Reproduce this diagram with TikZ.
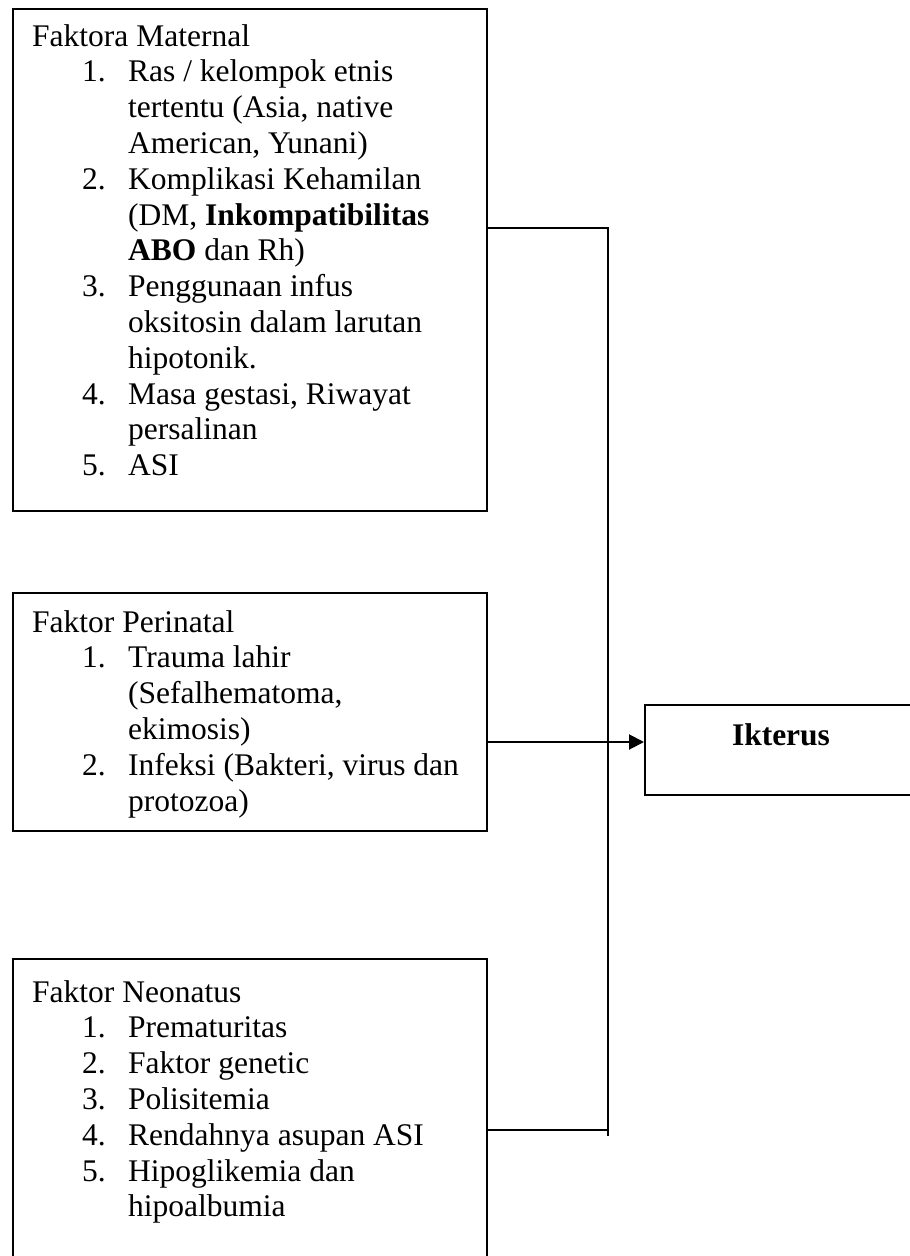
\documentclass[tikz,border=0pt]{standalone}
\usepackage{fontspec}
\setmainfont{Liberation Serif}
\usetikzlibrary{arrows.meta}
\newcommand\ind[1]{\hspace*{50pt}\makebox[46pt][l]{#1}}
\begin{document}
\begin{tikzpicture}[x=1pt,y=-1pt,
  box/.style={draw, line width=1.5pt, inner sep=0pt, anchor=north west},
  txt/.style={anchor=base west, inner sep=0pt, font=\fontsize{31.5}{35.8}\selectfont},
  conn/.style={line width=1.5pt},
  arr/.style={line width=2pt, -{Triangle[length=15pt,width=15pt]}}]
\useasboundingbox (0,0) rectangle (910,1256);
\fill[white] (0,0) rectangle (910,1256);
% boxes
\node[box, minimum width=474pt, minimum height=502pt] (m) at (12,8) {};
\node[box, minimum width=474pt, minimum height=238pt] (p) at (12,592) {};
\node[box, minimum width=474pt, minimum height=310pt] (n) at (12,958) {};
\node[box, minimum width=320pt, minimum height=90pt] (ik) at (644,704) {};
% texts
\node[txt] (tm) at (32,46) {\begin{tabular}[t]{@{}l@{}}
Faktora Maternal\\
\ind{1.}Ras / kelompok etnis\\
\ind{}tertentu (Asia, native\\
\ind{}American, Yunani)\\
\ind{2.}Komplikasi Kehamilan\\
\ind{}(DM, \textbf{Inkompatibilitas}\\
\ind{}\textbf{ABO} dan Rh)\\
\ind{3.}Penggunaan infus\\
\ind{}oksitosin dalam larutan\\
\ind{}hipotonik.\\
\ind{4.}Masa gestasi, Riwayat\\
\ind{}persalinan\\
\ind{5.}ASI
\end{tabular}};
\node[txt] (tp) at (32,632) {\begin{tabular}[t]{@{}l@{}}
Faktor Perinatal\\
\ind{1.}Trauma lahir\\
\ind{}(Sefalhematoma,\\
\ind{}ekimosis)\\
\ind{2.}Infeksi (Bakteri, virus dan\\
\ind{}protozoa)
\end{tabular}};
\node[txt] (tn) at (32,1002) {\begin{tabular}[t]{@{}l@{}}
Faktor Neonatus\\
\ind{1.}Prematuritas\\
\ind{2.}Faktor genetic\\
\ind{3.}Polisitemia\\
\ind{4.}Rendahnya asupan ASI\\
\ind{5.}Hipoglikemia dan\\
\ind{}hipoalbumia
\end{tabular}};
\node[anchor=base, inner sep=0pt, font=\fontsize{31.5}{35.8}\selectfont\bfseries] (ikt) at (781,745) {Ikterus};
% connectors
\coordinate (j1) at (608,228);
\coordinate (jb) at (608,1130);
\coordinate (jt) at (608,1136);
\coordinate (ay) at (0,742);
\draw[conn] (m.east |- j1) -- (j1) -- (jt);
\draw[conn] (n.east |- jb) -- (jb);
\draw[arr] (p.east |- ay) -- (ik.west |- ay);
\end{tikzpicture}
\end{document}
